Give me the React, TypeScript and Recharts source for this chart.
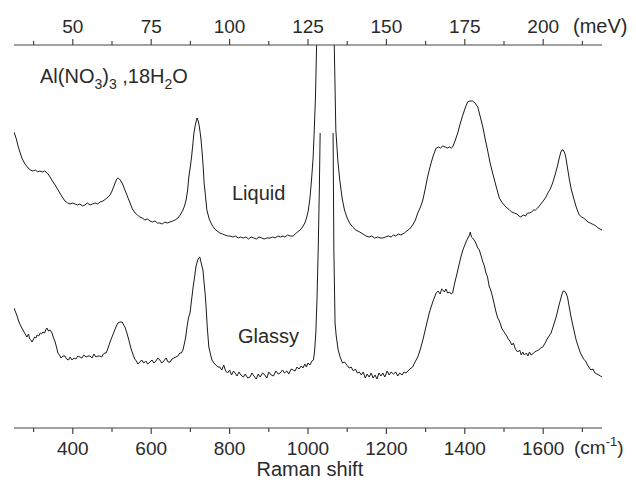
import React from "react";
import { LineChart, Line, XAxis, YAxis } from "recharts";

// Raman shift (cm^-1) vs intensity (arbitrary units)
const liquidShift: number[] = [250,256,261,266,270,278,286,292,298,305,310,316,322,328,332,337,342,348,355,361,367,373,380,387,393,400,406,412,418,425,431,437,444,450,457,463,470,477,484,490,495,500,505,508,512,515,519,523,528,533,539,546,552,559,565,571,577,584,590,597,603,610,616,622,628,635,641,648,655,661,668,674,681,685,689,693,696,700,703,706,709,713,717,720,723,727,730,733,735,739,742,748,755,762,768,775,782,788,795,801,808,815,822,828,835,842,848,855,862,868,875,882,888,895,903,910,916,923,930,936,941,948,955,962,970,980,986,992,997,1001,1005,1009,1013,1016,1019,1022,1044,1067,1071,1076,1081,1087,1093,1100,1106,1114,1122,1132,1140,1148,1156,1163,1170,1178,1185,1191,1198,1205,1212,1218,1224,1230,1237,1246,1252,1259,1267,1274,1280,1287,1293,1299,1305,1310,1314,1320,1327,1333,1338,1344,1350,1355,1361,1366,1369,1375,1382,1388,1395,1401,1407,1413,1420,1426,1433,1439,1446,1452,1458,1464,1471,1479,1488,1496,1505,1514,1520,1526,1533,1538,1543,1549,1555,1560,1565,1570,1576,1580,1586,1592,1596,1602,1607,1612,1618,1624,1628,1633,1637,1641,1645,1648,1651,1655,1658,1662,1667,1672,1679,1685,1692,1698,1703,1709,1714,1720,1725,1730,1735,1740,1745,1750];
const liquidIntensity: number[] = [296,289,281,275,270,264,260,258,257,258,256,257,256,257,256,254,251,247,243,239,235,231,227,225,224,225,224,223,224,222,223,225,223,224,225,224,226,227,229,231,233,237,242,245,249,250,249,247,243,238,232,225,219,215,213,211,210,208,209,207,206,207,205,205,204,206,205,206,207,208,210,213,218,222,228,238,251,262,271,283,295,304,310,307,301,289,275,259,245,230,218,209,203,199,197,195,194,193,192,192,191,192,190,191,190,191,189,191,190,189,191,190,189,190,190,191,190,192,191,192,191,193,192,192,195,198,201,205,211,218,230,248,270,298,330,383,1600,383,298,268,248,230,218,210,205,201,198,196,194,192,191,192,190,191,190,190,191,192,191,193,192,194,193,195,197,199,203,208,215,221,228,239,251,259,265,273,280,281,280,282,281,280,281,280,281,287,295,304,313,320,326,327,327,325,321,312,301,289,278,266,255,243,230,225,221,218,216,215,214,212,211,213,212,215,215,216,218,218,220,223,225,228,231,235,239,245,250,257,263,270,276,278,278,275,270,260,248,238,228,220,213,211,210,208,206,205,204,203,202,200,199,198];

const glassyShift: number[] = [250,254,258,261,265,270,273,277,280,283,287,290,293,296,300,303,306,309,313,317,320,324,328,331,334,338,342,347,350,355,359,362,366,370,375,380,384,389,393,398,403,408,413,418,423,428,434,439,444,449,454,459,464,469,474,478,482,485,490,495,500,505,510,515,520,526,530,533,538,543,548,554,558,562,566,571,576,581,586,591,597,602,607,612,617,622,627,632,638,643,648,653,658,663,668,673,677,681,685,688,691,695,699,703,707,711,714,718,721,724,727,730,732,735,738,740,743,747,751,755,760,765,770,775,780,785,790,795,800,805,810,814,819,824,829,835,840,846,852,857,862,868,873,878,884,890,895,900,906,912,918,924,929,935,940,946,951,957,962,967,972,977,983,987,992,996,1000,1005,1010,1014,1017,1020,1023,1026,1029,1031,1048,1064,1066,1068,1069,1072,1077,1082,1088,1093,1099,1105,1110,1116,1121,1126,1131,1136,1141,1146,1151,1156,1161,1166,1171,1176,1181,1186,1191,1196,1202,1207,1212,1218,1224,1229,1234,1240,1245,1250,1255,1260,1267,1273,1280,1286,1293,1299,1305,1310,1314,1320,1327,1332,1337,1341,1344,1348,1352,1356,1361,1365,1369,1373,1378,1384,1390,1396,1403,1408,1412,1414,1417,1420,1424,1428,1433,1437,1441,1446,1450,1454,1458,1462,1466,1471,1475,1479,1484,1487,1491,1494,1497,1502,1507,1511,1515,1520,1524,1528,1531,1535,1540,1544,1548,1552,1557,1561,1565,1569,1573,1578,1583,1588,1594,1599,1605,1610,1615,1620,1625,1629,1633,1638,1641,1644,1648,1651,1654,1658,1662,1666,1671,1676,1680,1684,1689,1694,1699,1703,1708,1713,1718,1722,1727,1732,1737,1742,1746,1750];
const glassyIntensity: (number | null)[] = [120,116,112,108,104,100,98,95,93,91,94,89,88,86,89,91,90,93,92,95,94,96,95,98,100,97,98,95,91,86,80,75,73,70,72,72,69,68,71,68,70,69,72,71,70,73,71,72,72,70,74,71,72,72,71,74,75,75,80,86,91,96,101,105,106,106,103,101,95,88,80,73,69,67,64,66,68,65,67,64,66,68,65,67,70,68,65,67,70,66,66,69,70,71,72,75,75,78,85,91,100,110,115,128,141,152,161,167,170,171,166,161,158,145,133,121,101,81,74,68,65,63,61,61,58,63,57,55,58,53,57,55,52,56,53,51,54,50,51,55,52,49,54,51,55,53,50,56,53,52,57,54,55,58,55,57,54,59,58,57,61,59,62,60,64,61,65,63,67,68,78,95,130,178,240,295,null,295,178,130,105,92,78,71,65,66,63,60,61,57,59,55,56,53,56,50,54,51,55,50,53,49,55,52,55,51,57,53,56,54,56,52,55,53,56,55,57,59,61,66,71,78,88,98,108,116,121,128,135,137,134,139,138,136,139,135,136,134,135,143,151,161,171,179,186,190,193,196,191,190,188,185,180,178,173,166,162,155,151,142,138,131,124,117,110,108,104,100,98,95,92,89,87,83,85,80,78,76,78,73,76,73,75,72,76,73,74,76,77,78,80,81,85,89,92,95,101,106,111,119,124,128,134,137,137,135,131,122,111,102,95,88,82,76,72,69,67,63,60,58,59,55,54,53,52,51];

const bottomTicks: number[] = [300,400,500,600,700,800,900,1000,1100,1200,1300,1400,1500,1600,1700];
const bottomLabels: number[] = [400,600,800,1000,1200,1400,1600];
const topTicks: number[] = [37.5,50,62.5,75,87.5,100,112.5,125,137.5,150,162.5,175,187.5,200,212.5];
const topLabels: number[] = [50,75,100,125,150,175,200];

const liquidData = liquidShift.map((x, i) => ({ x, y: liquidIntensity[i] }));
const glassyData = glassyShift.map((x, i) => ({ x, y: glassyIntensity[i] }));
// invisible carrier so the top (meV) axis has a series attached
const topAxisCarrier = topTicks.map((x) => ({ x, y: null }));

const FONT = '"Liberation Sans", Arial, Helvetica, sans-serif';
const AXIS = "#444";
const TXT = "#2a2a2a";

const BottomTick = (props: any) => {
  const { x, y, payload } = props;
  const major = bottomLabels.includes(payload.value);
  return (
    <g>
      <line x1={x} x2={x} y1={y} y2={y + (major ? 6 : 4)} stroke={AXIS} strokeWidth={1.2} />
      {major && (
        <text x={x} y={y + 27} textAnchor="middle" fontSize={19} fill={TXT} fontFamily={FONT}>
          {payload.value}
        </text>
      )}
    </g>
  );
};

const TopTick = (props: any) => {
  const { x, y, payload } = props;
  const major = topLabels.includes(payload.value);
  return (
    <g>
      <line x1={x} x2={x} y1={y} y2={y - (major ? 6 : 4)} stroke={AXIS} strokeWidth={1.2} />
      {major && (
        <text x={x} y={y - 12} textAnchor="middle" fontSize={19} fill={TXT} fontFamily={FONT}>
          {payload.value}
        </text>
      )}
    </g>
  );
};

export default function App() {
  return (
    <div style={{ position: "relative", width: 628, height: 475 }}>
      <LineChart
        width={628}
        height={475}
        margin={{ top: 7, right: 34, bottom: 25, left: 6 }}
      >
        <XAxis
          xAxisId="bottom"
          dataKey="x"
          type="number"
          domain={[250, 1750]}
          allowDataOverflow
          ticks={bottomTicks}
          interval={0}
          tickSize={0}
          tickMargin={0}
          tickLine={false}
          height={30}
          axisLine={{ stroke: AXIS, strokeWidth: 1.2 }}
          tick={<BottomTick />}
        />
        <XAxis
          xAxisId="top"
          orientation="top"
          dataKey="x"
          type="number"
          domain={[31.25, 218.75]}
          allowDataOverflow
          ticks={topTicks}
          interval={0}
          tickSize={0}
          tickMargin={0}
          tickLine={false}
          height={30}
          axisLine={{ stroke: AXIS, strokeWidth: 1.2 }}
          tick={<TopTick />}
        />
        <YAxis type="number" domain={[0, 383]} allowDataOverflow hide />
        <Line
          xAxisId="top"
          data={topAxisCarrier}
          dataKey="y"
          stroke="none"
          dot={false}
          activeDot={false}
          legendType="none"
          isAnimationActive={false}
        />
        <Line
          xAxisId="bottom"
          data={liquidData}
          dataKey="y"
          type="linear"
          stroke="#1a1a1a"
          strokeWidth={1}
          dot={false}
          isAnimationActive={false}
        />
        <Line
          xAxisId="bottom"
          data={glassyData}
          dataKey="y"
          type="linear"
          stroke="#1a1a1a"
          strokeWidth={1}
          dot={false}
          isAnimationActive={false}
        />
      </LineChart>
      <svg
        width={628}
        height={475}
        style={{ position: "absolute", left: 0, top: 0, pointerEvents: "none" }}
        fontFamily={FONT}
        fill={TXT}
      >
        <text x={32} y={75} fontSize={20}>
          Al(NO
          <tspan fontSize={14} dy={6}>3</tspan>
          <tspan dy={-6}>)</tspan>
          <tspan fontSize={14} dy={6}>3</tspan>
          <tspan dy={-6}> ,18H</tspan>
          <tspan fontSize={14} dy={6}>2</tspan>
          <tspan dy={-6}>O</tspan>
        </text>
        <text x={224} y={192} fontSize={20}>Liquid</text>
        <text x={230} y={335} fontSize={20}>Glassy</text>
        <text x={248.5} y={468} fontSize={20}>Raman shift</text>
        <text x={565} y={25} fontSize={20}>(meV)</text>
        <text x={566} y={446} fontSize={19}>
          (cm
          <tspan fontSize={13} dy={-8}>-1</tspan>
          <tspan dy={8}>)</tspan>
        </text>
      </svg>
    </div>
  );
}
